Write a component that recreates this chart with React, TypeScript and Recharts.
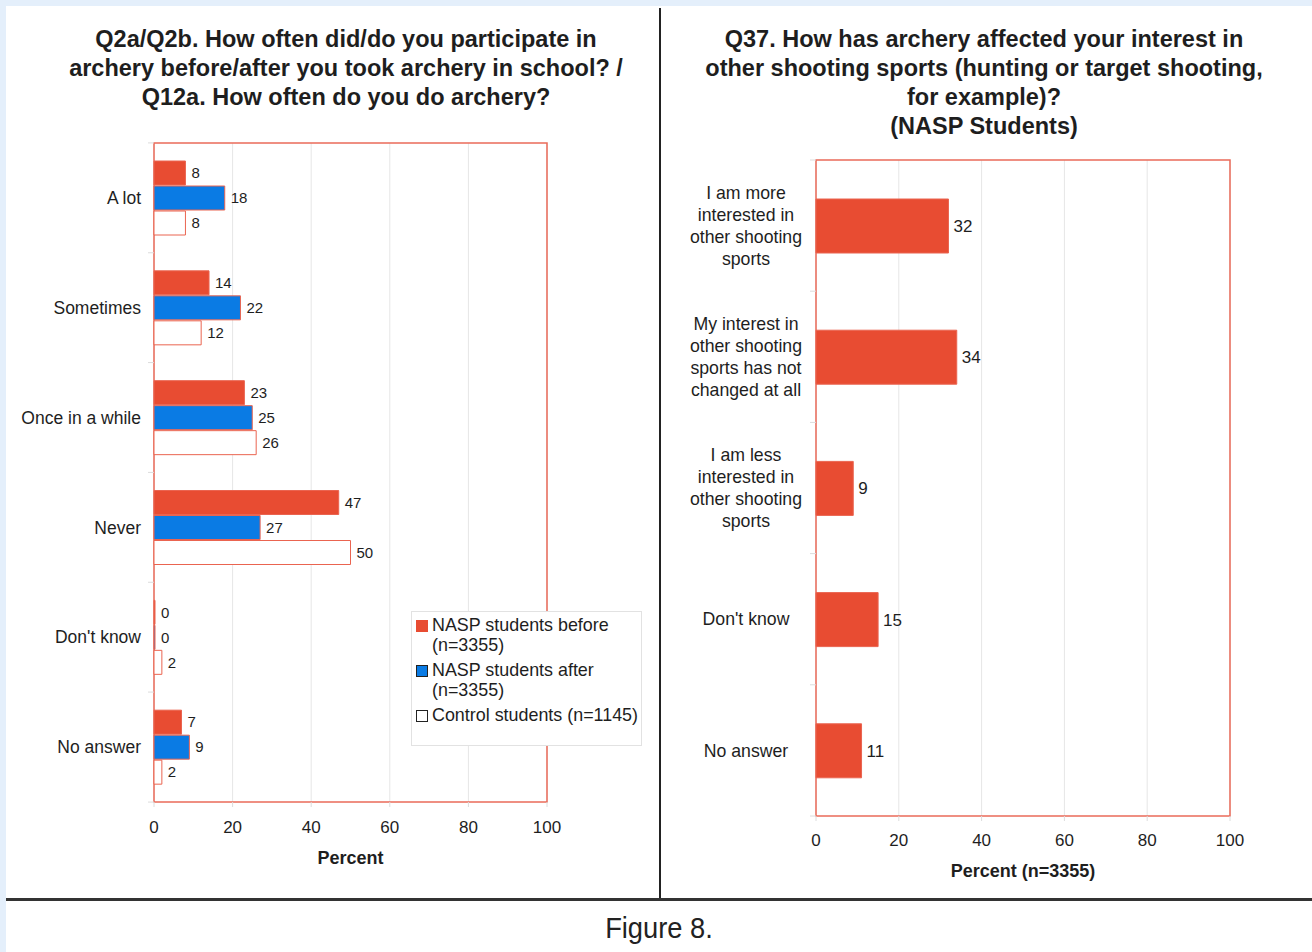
import { BarChart, Bar, XAxis, YAxis, CartesianGrid, Legend, LabelList, ReferenceArea } from 'recharts';

// Q2a/Q2b / Q12a - how often
const freqCategories = ['A lot', 'Sometimes', 'Once in a while', 'Never', "Don't know", 'No answer'];
const naspBefore = [8, 14, 23, 47, 0, 7];
const naspAfter = [18, 22, 25, 27, 0, 9];
const controlStudents = [8, 12, 26, 50, 2, 2];

// Q37 - interest in other shooting sports
const interestCategories = [
  'I am more\ninterested in\nother shooting\nsports',
  'My interest in\nother shooting\nsports has not\nchanged at all',
  'I am less\ninterested in\nother shooting\nsports',
  "Don't know",
  'No answer',
];
const interestValues = [32, 34, 9, 15, 11];

const percentTicks = [0, 20, 40, 60, 80, 100];

const FONT = '"Liberation Sans", Arial, Helvetica, sans-serif';
const RED = '#e84c32';
const BLUE = '#0a7be4';
const BAR_STROKE = '#ea6450';
const BORDER = '#ea6b59';
const GRID = '#e6e6e6';
const TEXT = '#1e1e1e';

const freqSeries = [
  { key: 'before', name: 'NASP students before\n(n=3355)', fill: RED, swatchStroke: RED },
  { key: 'after', name: 'NASP students after\n(n=3355)', fill: BLUE, swatchStroke: '#222' },
  { key: 'control', name: 'Control students (n=1145)', fill: '#ffffff', swatchStroke: '#222' },
];

const freqData = freqCategories.map((cat, i) => ({
  cat,
  before: naspBefore[i],
  after: naspAfter[i],
  control: controlStudents[i],
}));

const interestData = interestCategories.map((cat, i) => ({ cat, value: interestValues[i] }));

// category tick with small boundary marks between bands
function CategoryTick(props: any) {
  const { x, y, payload, index, band, count, labelOffset, anchor, fontSize, lineHeight } = props;
  const lines = String(payload.value).split('\n');
  const top = y - ((lines.length - 1) * lineHeight) / 2;
  const lx = x - labelOffset;
  return (
    <g>
      <line x1={x - 6} x2={x} y1={y - band / 2} y2={y - band / 2} stroke="#dcdcdc" />
      {index === count - 1 && (
        <line x1={x - 6} x2={x} y1={y + band / 2} y2={y + band / 2} stroke="#dcdcdc" />
      )}
      <text textAnchor={anchor} fontSize={fontSize} fill={TEXT} fontFamily={FONT}>
        {lines.map((l, i) => (
          <tspan key={i} x={lx} y={top + i * lineHeight} dy="0.35em">
            {l}
          </tspan>
        ))}
      </text>
    </g>
  );
}

function FreqLegend() {
  return (
    <div
      style={{
        width: 231,
        height: 135,
        boxSizing: 'border-box',
        border: '1px solid #e2e2e2',
        background: '#fff',
        padding: '4px 0 0 4px',
        fontFamily: FONT,
        fontSize: 17.9,
        lineHeight: '19.5px',
        color: TEXT,
      }}
    >
      {freqSeries.map((s) => (
        <div key={s.key} style={{ display: 'flex', alignItems: 'flex-start', marginBottom: 6 }}>
          <span
            style={{
              display: 'inline-block',
              width: 12,
              height: 12,
              boxSizing: 'border-box',
              marginTop: 4,
              marginRight: 4,
              background: s.fill,
              border: `1px solid ${s.swatchStroke}`,
              flexShrink: 0,
            }}
          />
          <span style={{ whiteSpace: 'pre' }}>{s.name}</span>
        </div>
      ))}
    </div>
  );
}

const titleStyle: React.CSSProperties = {
  position: 'absolute',
  top: 25,
  textAlign: 'center',
  fontFamily: FONT,
  fontWeight: 'bold',
  fontSize: 23.5,
  lineHeight: '29px',
  color: TEXT,
};

export default function App() {
  return (
    <div style={{ position: 'absolute', left: 0, top: 0, width: 1312, height: 952, background: '#e4effb', overflow: 'hidden' }}>
      <div style={{ position: 'absolute', left: 6, top: 6, width: 1306, height: 946, background: '#fff' }} />
      <div style={{ ...titleStyle, left: 19, width: 654 }}>
        Q2a/Q2b. How often did/do you participate in
        <br />
        archery before/after you took archery in school? /
        <br />
        Q12a. How often do you do archery?
      </div>
      <div style={{ ...titleStyle, left: 662, width: 644 }}>
        Q37. How has archery affected your interest in
        <br />
        other shooting sports (hunting or target shooting,
        <br />
        for example)?
        <br />
        (NASP Students)
      </div>

      <div style={{ position: 'absolute', left: 0, top: 0 }}>
        <BarChart
          width={660}
          height={900}
          data={freqData}
          layout="vertical"
          margin={{ top: 143, right: 113, bottom: 28, left: 0 }}
          barCategoryGap={18}
          barGap={1}
        >
          <CartesianGrid horizontal={false} stroke={GRID} />
          <XAxis
            type="number"
            domain={[0, 100]}
            ticks={percentTicks}
            axisLine={false}
            tickLine={{ stroke: '#dcdcdc' }}
            tickSize={5}
            tickMargin={14}
            height={70}
            tick={{ fontSize: 17, fill: TEXT, fontFamily: FONT }}
            label={{ value: 'Percent', position: 'insideBottom', offset: 8, fontSize: 18, fontWeight: 'bold', fill: TEXT, fontFamily: FONT }}
          />
          <YAxis
            type="category"
            dataKey="cat"
            width={154}
            axisLine={false}
            tickLine={false}
            tickSize={0}
            tickMargin={0}
            interval={0}
            tick={(p: any) => (
              <CategoryTick {...p} band={110} count={freqCategories.length} labelOffset={13} anchor="end" fontSize={17.5} lineHeight={20} />
            )}
          />
          {freqSeries.map((s) => (
            <Bar
              key={s.key}
              dataKey={s.key}
              name={s.name}
              fill={s.fill}
              stroke={BAR_STROKE}
              strokeWidth={1}
              minPointSize={1}
              isAnimationActive={false}
            >
              <LabelList dataKey={s.key} position="right" offset={6} fontSize={15} fill={TEXT} fontFamily={FONT} />
            </Bar>
          ))}
          <ReferenceArea x1={0} x2={100} fill="none" stroke={BORDER} strokeWidth={1.5} ifOverflow="visible" />
          <Legend
            layout="vertical"
            align="center"
            verticalAlign="middle"
            content={() => <FreqLegend />}
            wrapperStyle={{ position: 'absolute', left: 411, top: 611, width: 231, height: 135 }}
          />
        </BarChart>
      </div>

      <div style={{ position: 'absolute', left: 662, top: 0 }}>
        <BarChart
          width={650}
          height={900}
          data={interestData}
          layout="vertical"
          margin={{ top: 160, right: 82, bottom: 14, left: 0 }}
          barSize={54}
        >
          <CartesianGrid horizontal={false} stroke={GRID} />
          <XAxis
            type="number"
            domain={[0, 100]}
            ticks={percentTicks}
            axisLine={false}
            tickLine={{ stroke: '#dcdcdc' }}
            tickSize={5}
            tickMargin={13}
            height={70}
            tick={{ fontSize: 17, fill: TEXT, fontFamily: FONT }}
            label={{ value: 'Percent (n=3355)', position: 'insideBottom', offset: 9, fontSize: 18, fontWeight: 'bold', fill: TEXT, fontFamily: FONT }}
          />
          <YAxis
            type="category"
            dataKey="cat"
            width={154}
            axisLine={false}
            tickLine={false}
            tickSize={0}
            tickMargin={0}
            interval={0}
            tick={(p: any) => (
              <CategoryTick {...p} band={131.2} count={interestCategories.length} labelOffset={70} anchor="middle" fontSize={17.7} lineHeight={22} />
            )}
          />
          <Bar dataKey="value" name="Percent" fill={RED} stroke={BAR_STROKE} strokeWidth={1} isAnimationActive={false}>
            <LabelList dataKey="value" position="right" offset={5} fontSize={17} fill={TEXT} fontFamily={FONT} />
          </Bar>
          <ReferenceArea x1={0} x2={100} fill="none" stroke={BORDER} strokeWidth={1.5} ifOverflow="visible" />
        </BarChart>
      </div>

      <div style={{ position: 'absolute', left: 659, top: 8, width: 2, height: 892, background: '#222' }} />
      <div style={{ position: 'absolute', left: 6, top: 898, width: 1306, height: 3, background: '#333' }} />
      <div
        style={{
          position: 'absolute',
          left: 6,
          top: 909,
          width: 1306,
          textAlign: 'center',
          fontFamily: FONT,
          fontSize: 30,
          lineHeight: '38px',
          color: '#222',
          transform: 'scaleX(0.91)',
        }}
      >
        Figure 8.
      </div>
    </div>
  );
}
